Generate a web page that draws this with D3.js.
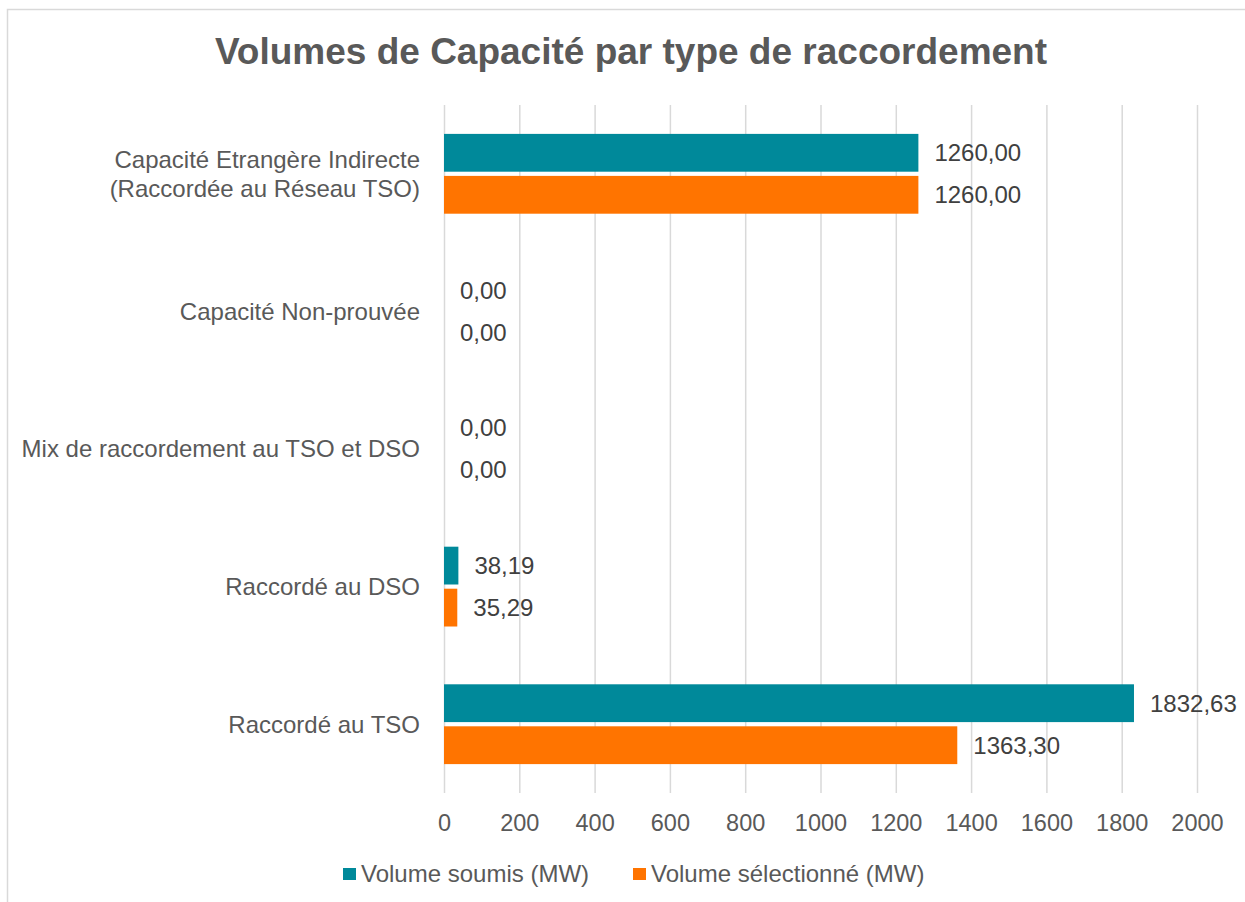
<!DOCTYPE html>
<meta charset="UTF-8">

<head>
    <script src="https://d3js.org/d3.v7.min.js"></script>
    <style>
        body {
            margin: 0;
            background: #fff;
        }

        text {
            font-family: "Liberation Sans", Arial, sans-serif;
        }

        .grid line {
            stroke: #d9d9d9;
            stroke-width: 1.5px;
        }

        .grid text {
            font-size: 23.5px;
            fill: #595959;
        }

        .cat text {
            font-size: 24px;
            fill: #595959;
        }

        .val {
            font-size: 24px;
            fill: #404040;
        }

        .legend text {
            font-size: 24px;
            fill: #595959;
        }
    </style>
</head>

<body>

    <script>
        // categories, top to bottom
        var categories = [
            ["Capacité Etrangère Indirecte", "(Raccordée au Réseau TSO)"],
            ["Capacité Non-prouvée"],
            ["Mix de raccordement au TSO et DSO"],
            ["Raccordé au DSO"],
            ["Raccordé au TSO"]
        ];
        var seriesNames = ["Volume soumis (MW)", "Volume sélectionné (MW)"];
        var soumis = [1260.00, 0, 0, 38.19, 1832.63];
        var selectionne = [1260.00, 0, 0, 35.29, 1363.30];
        var tickLabels = [0, 200, 400, 600, 800, 1000, 1200, 1400, 1600, 1800, 2000];
        var colors = ["#00899a", "#ff7400"];

        var W = 1245, H = 902;
        var plot = { left: 444, right: 1197, top: 105, bottom: 793 };

        var svg = d3.select("body").append("svg")
            .attr("width", W)
            .attr("height", H);

        // chart border (runs off right/bottom edges)
        svg.append("rect")
            .attr("x", 7.5).attr("y", 9.5)
            .attr("width", W + 20).attr("height", H + 20)
            .attr("fill", "#fff")
            .attr("stroke", "#d9d9d9")
            .attr("stroke-width", 1.5);

        svg.append("text")
            .attr("x", 631)
            .attr("y", 64)
            .attr("text-anchor", "middle")
            .style("font-size", "37px")
            .style("font-weight", "bold")
            .style("fill", "#595959")
            .text("Volumes de Capacité par type de raccordement");

        var x = d3.scaleLinear().domain([0, 2000]).range([plot.left, plot.right]);

        var y = d3.scaleBand()
            .domain(d3.range(categories.length))
            .range([plot.top, plot.bottom])
            .paddingInner(0.42)
            .paddingOuter(0.21);

        var ySub = d3.scaleBand()
            .domain([0, 1])
            .range([0, y.bandwidth()])
            .paddingInner(0.1);

        // gridlines + x tick labels
        svg.append("g")
            .attr("class", "grid")
            .attr("transform", "translate(0," + plot.bottom + ")")
            .call(d3.axisBottom(x)
                .tickValues(tickLabels)
                .tickSize(-(plot.bottom - plot.top))
                .tickPadding(21)
                .tickFormat(d3.format("d")))
            .call(function (g) { g.select(".domain").remove(); });

        var fr = d3.formatLocale({ decimal: ",", thousands: "", grouping: [3], currency: ["", "€"] });
        var fmt = fr.format(".2f");

        var series = [soumis, selectionne];

        series.forEach(function (vals, s) {
            svg.append("g")
                .selectAll("rect")
                .data(vals)
                .enter()
                .append("rect")
                .attr("x", x(0))
                .attr("y", function (d, i) { return y(i) + ySub(s); })
                .attr("width", function (d) { return x(d) - x(0); })
                .attr("height", ySub.bandwidth())
                .attr("fill", colors[s]);

            svg.append("g")
                .selectAll("text")
                .data(vals)
                .enter()
                .append("text")
                .attr("class", "val")
                .attr("x", function (d) { return x(d) + 16; })
                .attr("y", function (d, i) { return y(i) + ySub(s) + ySub.bandwidth() / 2; })
                .attr("dy", "0.35em")
                .text(function (d) { return fmt(d); });
        });

        // category labels (wrapped ones get a roomy line height)
        var cat = svg.append("g").attr("class", "cat");
        categories.forEach(function (lines, i) {
            var cy = y(i) + y.bandwidth() / 2;
            var lh = 29;
            var t = cat.append("text")
                .attr("text-anchor", "end")
                .attr("x", 420)
                .attr("y", cy - (lines.length - 1) * 14);
            lines.forEach(function (l, j) {
                t.append("tspan")
                    .attr("x", 420)
                    .attr("dy", j === 0 ? "0.35em" : lh)
                    .text(l);
            });
        });

        // legend
        var legend = svg.append("g").attr("class", "legend");
        var lx = [343, 633];
        seriesNames.forEach(function (n, s) {
            legend.append("rect")
                .attr("x", lx[s]).attr("y", 868)
                .attr("width", 13).attr("height", 12)
                .attr("fill", colors[s]);
            legend.append("text")
                .attr("x", lx[s] + 18)
                .attr("y", 874)
                .attr("dy", "0.35em")
                .text(n);
        });
    </script>

</body>
